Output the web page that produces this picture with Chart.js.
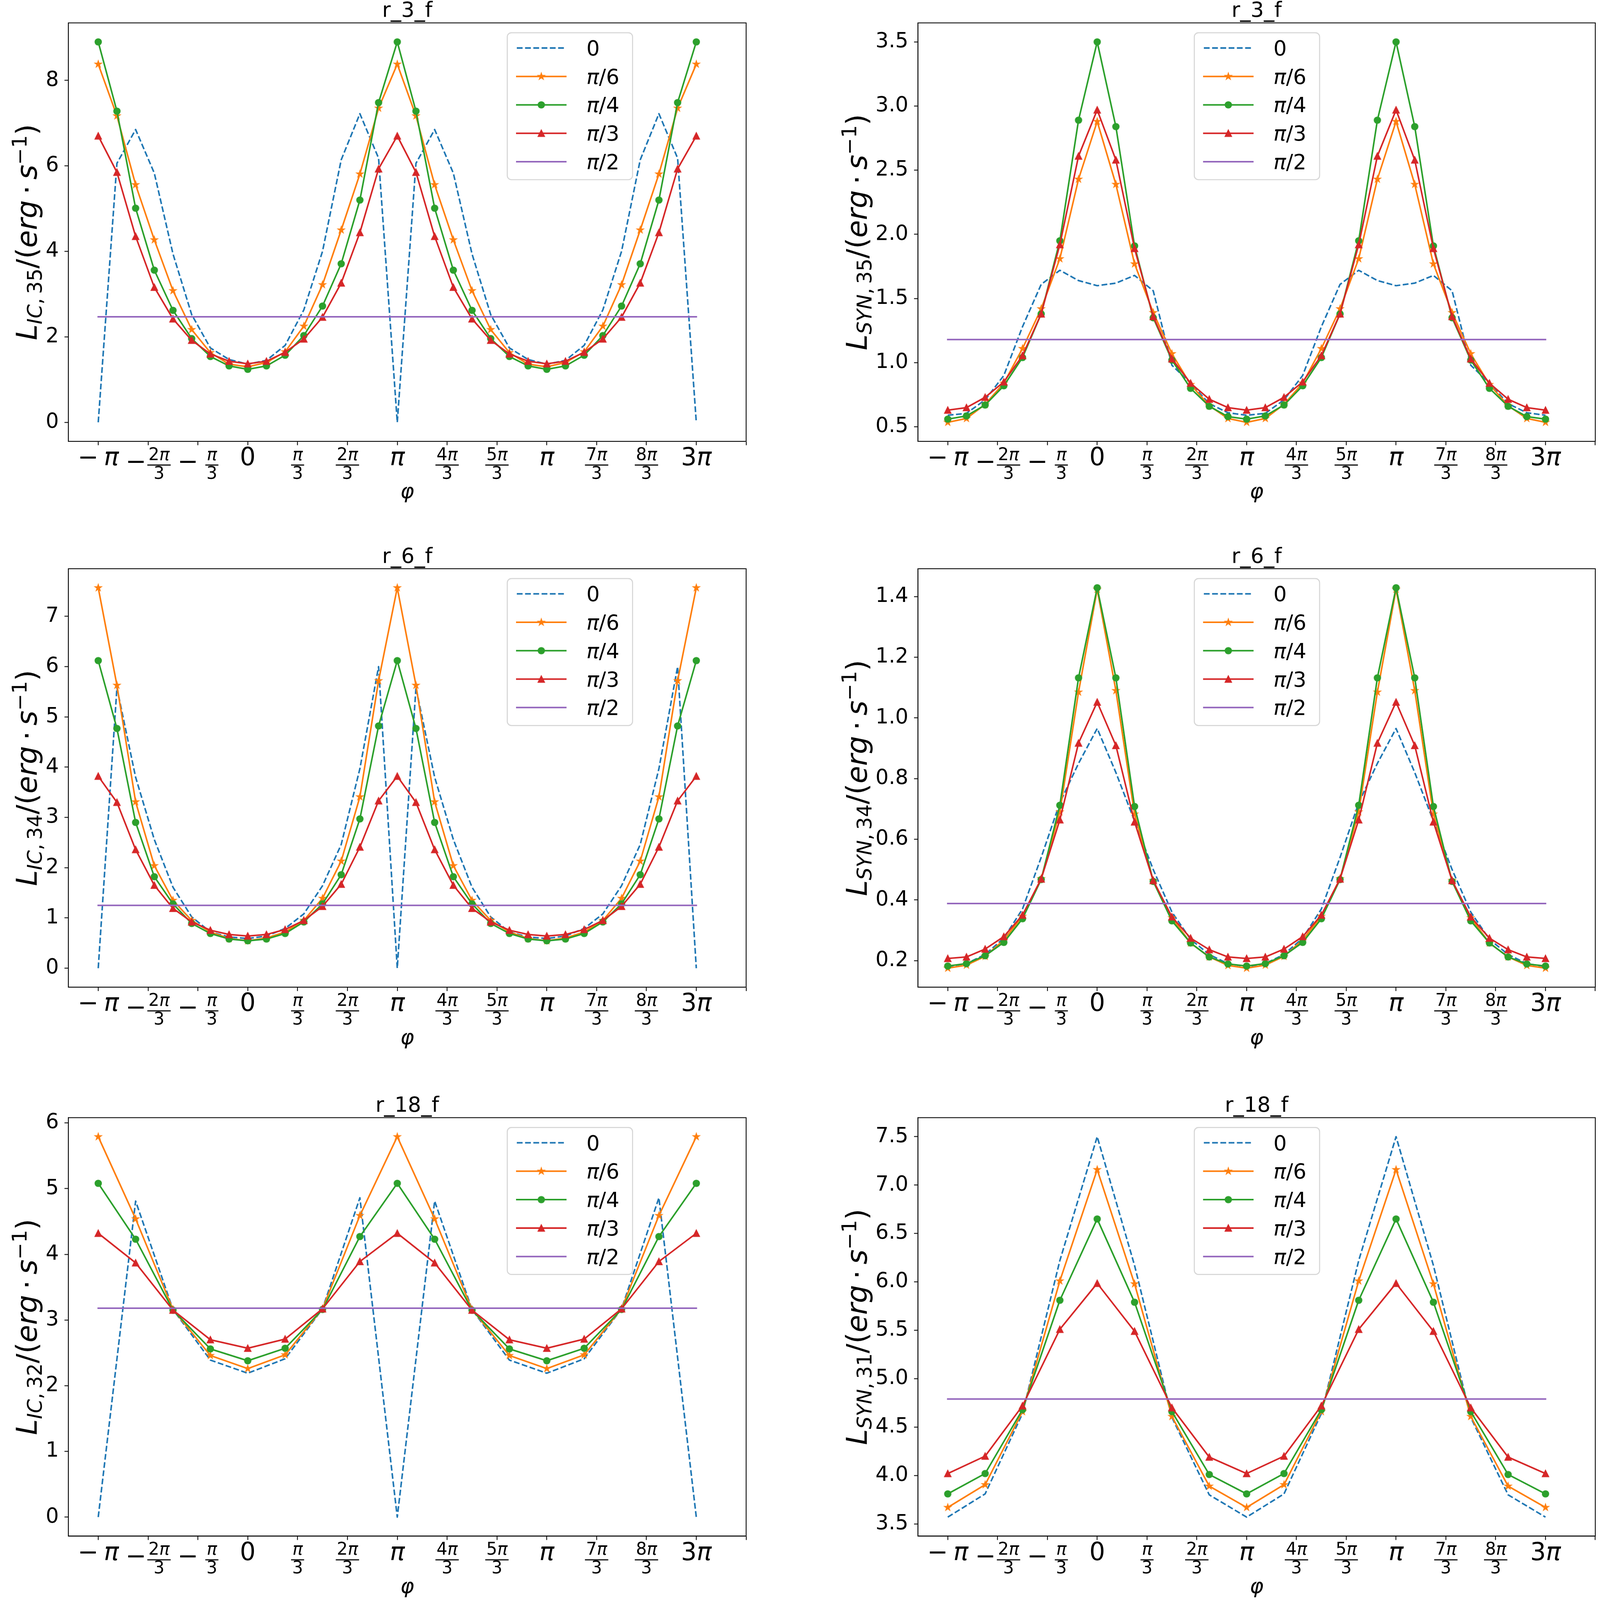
<!DOCTYPE html>
<html>
<head>
<meta charset="utf-8">
<script src="https://cdn.jsdelivr.net/npm/chart.js@4.4.1/dist/chart.umd.min.js"></script>
<style>
  html, body { margin: 0; padding: 0; background: #fff; overflow: hidden; }
  #page { position: relative; background: #fff; }
  #page canvas { position: absolute; }
</style>
</head>
<body>
<div id="page"></div>
<script>
const PI = Math.PI;

// phi positions, in units of pi
const phiFine = [-1, -0.875, -0.75, -0.625, -0.5, -0.375, -0.25, -0.125,
  0, 0.125, 0.25, 0.375, 0.5, 0.625, 0.75, 0.875,
  1, 1.125, 1.25, 1.375, 1.5, 1.625, 1.75, 1.875,
  2, 2.125, 2.25, 2.375, 2.5, 2.625, 2.75, 2.875, 3];
const phiCoarse = [-1, -0.75, -0.5, -0.25, 0, 0.25, 0.5, 0.75,
  1, 1.25, 1.5, 1.75, 2, 2.25, 2.5, 2.75, 3];

const phiTicks = [-1, -2/3, -1/3, 0, 1/3, 2/3, 1, 4/3, 5/3, 2, 7/3, 8/3, 3, 10/3];
const phiTickLabels = ['-π', '-2π/3', '-π/3', '0', 'π/3', '2π/3', 'π', '4π/3', '5π/3', 'π', '7π/3', '8π/3', '3π', ''];

const seriesNames = ['0', 'π/6', 'π/4', 'π/3', 'π/2'];
const seriesColors = ['#1f77b4', '#ff7f0e', '#2ca02c', '#d62728', '#9467bd'];
const seriesMarkers = [null, 'star', 'circle', 'triangle', null];

// r_3_f, L_IC,35
const ic35Phi0 = [0, 6.06, 6.85, 5.83, 3.94, 2.52, 1.74, 1.47, 1.36, 1.45, 1.80, 2.63, 4.00, 6.14, 7.22, 6.18,
  0, 6.06, 6.85, 5.83, 3.94, 2.52, 1.74, 1.47, 1.36, 1.45, 1.80, 2.63, 4.00, 6.14, 7.22, 6.18, 0];
const ic35Phi6 = [8.38, 7.17, 5.56, 4.27, 3.08, 2.17, 1.63, 1.36, 1.30, 1.40, 1.65, 2.25, 3.22, 4.50, 5.81, 7.35,
  8.38, 7.17, 5.56, 4.27, 3.08, 2.17, 1.63, 1.36, 1.30, 1.40, 1.65, 2.25, 3.22, 4.50, 5.81, 7.35, 8.38];
const ic35Phi4 = [8.90, 7.28, 5.01, 3.56, 2.62, 1.96, 1.54, 1.32, 1.24, 1.32, 1.57, 2.03, 2.72, 3.71, 5.20, 7.48,
  8.90, 7.28, 5.01, 3.56, 2.62, 1.96, 1.54, 1.32, 1.24, 1.32, 1.57, 2.03, 2.72, 3.71, 5.20, 7.48, 8.90];
const ic35Phi3 = [6.70, 5.85, 4.35, 3.16, 2.42, 1.92, 1.60, 1.43, 1.37, 1.43, 1.64, 1.95, 2.46, 3.26, 4.44, 5.93,
  6.70, 5.85, 4.35, 3.16, 2.42, 1.92, 1.60, 1.43, 1.37, 1.43, 1.64, 1.95, 2.46, 3.26, 4.44, 5.93, 6.70];
const ic35Phi2 = [2.47, 2.47, 2.47, 2.47, 2.47, 2.47, 2.47, 2.47, 2.47, 2.47, 2.47, 2.47, 2.47, 2.47, 2.47, 2.47,
  2.47, 2.47, 2.47, 2.47, 2.47, 2.47, 2.47, 2.47, 2.47, 2.47, 2.47, 2.47, 2.47, 2.47, 2.47, 2.47, 2.47];
const ic35Ticks = [0, 2, 4, 6, 8];
const ic35TickLabels = ['0', '2', '4', '6', '8'];

// r_3_f, L_SYN,35
const syn35Phi0 = [0.59, 0.605, 0.71, 0.90, 1.28, 1.61, 1.72, 1.64, 1.60, 1.62, 1.68, 1.56, 0.98, 0.84, 0.68, 0.61,
  0.59, 0.605, 0.71, 0.90, 1.28, 1.61, 1.72, 1.64, 1.60, 1.62, 1.68, 1.56, 0.98, 0.84, 0.68, 0.61, 0.59];
const syn35Phi6 = [0.535, 0.565, 0.675, 0.84, 1.11, 1.42, 1.81, 2.43, 2.88, 2.39, 1.77, 1.39, 1.07, 0.83, 0.665, 0.565,
  0.535, 0.565, 0.675, 0.84, 1.11, 1.42, 1.81, 2.43, 2.88, 2.39, 1.77, 1.39, 1.07, 0.83, 0.665, 0.565, 0.535];
const syn35Phi4 = [0.56, 0.585, 0.67, 0.82, 1.04, 1.38, 1.95, 2.89, 3.50, 2.84, 1.91, 1.35, 1.02, 0.80, 0.66, 0.58,
  0.56, 0.585, 0.67, 0.82, 1.04, 1.38, 1.95, 2.89, 3.50, 2.84, 1.91, 1.35, 1.02, 0.80, 0.66, 0.58, 0.56];
const syn35Phi3 = [0.63, 0.65, 0.73, 0.85, 1.055, 1.38, 1.92, 2.61, 2.97, 2.58, 1.89, 1.36, 1.03, 0.84, 0.715, 0.65,
  0.63, 0.65, 0.73, 0.85, 1.055, 1.38, 1.92, 2.61, 2.97, 2.58, 1.89, 1.36, 1.03, 0.84, 0.715, 0.65, 0.63];
const syn35Phi2 = [1.18, 1.18, 1.18, 1.18, 1.18, 1.18, 1.18, 1.18, 1.18, 1.18, 1.18, 1.18, 1.18, 1.18, 1.18, 1.18,
  1.18, 1.18, 1.18, 1.18, 1.18, 1.18, 1.18, 1.18, 1.18, 1.18, 1.18, 1.18, 1.18, 1.18, 1.18, 1.18, 1.18];
const syn35Ticks = [0.5, 1.0, 1.5, 2.0, 2.5, 3.0, 3.5];
const syn35TickLabels = ['0.5', '1.0', '1.5', '2.0', '2.5', '3.0', '3.5'];

// r_6_f, L_IC,34
const ic34Phi0 = [0, 5.58, 3.80, 2.56, 1.61, 1.02, 0.72, 0.62, 0.59, 0.64, 0.79, 1.08, 1.64, 2.46, 3.97, 6.00,
  0, 5.58, 3.80, 2.56, 1.61, 1.02, 0.72, 0.62, 0.59, 0.64, 0.79, 1.08, 1.64, 2.46, 3.97, 6.00, 0];
const ic34Phi6 = [7.57, 5.63, 3.31, 2.04, 1.35, 0.95, 0.72, 0.59, 0.545, 0.60, 0.72, 0.95, 1.39, 2.13, 3.41, 5.72,
  7.57, 5.63, 3.31, 2.04, 1.35, 0.95, 0.72, 0.59, 0.545, 0.60, 0.72, 0.95, 1.39, 2.13, 3.41, 5.72, 7.57];
const ic34Phi4 = [6.12, 4.77, 2.90, 1.82, 1.28, 0.89, 0.69, 0.58, 0.545, 0.58, 0.69, 0.92, 1.28, 1.86, 2.97, 4.82,
  6.12, 4.77, 2.90, 1.82, 1.28, 0.89, 0.69, 0.58, 0.545, 0.58, 0.69, 0.92, 1.28, 1.86, 2.97, 4.82, 6.12];
const ic34Phi3 = [3.82, 3.30, 2.36, 1.65, 1.19, 0.92, 0.755, 0.67, 0.64, 0.67, 0.77, 0.95, 1.23, 1.67, 2.41, 3.33,
  3.82, 3.30, 2.36, 1.65, 1.19, 0.92, 0.755, 0.67, 0.64, 0.67, 0.77, 0.95, 1.23, 1.67, 2.41, 3.33, 3.82];
const ic34Phi2 = [1.25, 1.25, 1.25, 1.25, 1.25, 1.25, 1.25, 1.25, 1.25, 1.25, 1.25, 1.25, 1.25, 1.25, 1.25, 1.25,
  1.25, 1.25, 1.25, 1.25, 1.25, 1.25, 1.25, 1.25, 1.25, 1.25, 1.25, 1.25, 1.25, 1.25, 1.25, 1.25, 1.25];
const ic34Ticks = [0, 1, 2, 3, 4, 5, 6, 7];
const ic34TickLabels = ['0', '1', '2', '3', '4', '5', '6', '7'];

// r_6_f, L_SYN,34
const syn34Phi0 = [0.18, 0.19, 0.22, 0.274, 0.37, 0.54, 0.72, 0.85, 0.965, 0.82, 0.66, 0.50, 0.36, 0.27, 0.22, 0.19,
  0.18, 0.19, 0.22, 0.274, 0.37, 0.54, 0.72, 0.85, 0.965, 0.82, 0.66, 0.50, 0.36, 0.27, 0.22, 0.19, 0.18];
const syn34Phi6 = [0.175, 0.185, 0.214, 0.268, 0.346, 0.47, 0.69, 1.085, 1.424, 1.09, 0.683, 0.464, 0.341, 0.258, 0.212, 0.184,
  0.175, 0.185, 0.214, 0.268, 0.346, 0.47, 0.69, 1.085, 1.424, 1.09, 0.683, 0.464, 0.341, 0.258, 0.212, 0.184, 0.175];
const syn34Phi4 = [0.182, 0.19, 0.216, 0.26, 0.338, 0.467, 0.712, 1.132, 1.429, 1.132, 0.708, 0.461, 0.331, 0.258, 0.212, 0.189,
  0.182, 0.19, 0.216, 0.26, 0.338, 0.467, 0.712, 1.132, 1.429, 1.132, 0.708, 0.461, 0.331, 0.258, 0.212, 0.189, 0.182];
const syn34Phi3 = [0.207, 0.212, 0.238, 0.279, 0.35, 0.469, 0.664, 0.917, 1.052, 0.909, 0.657, 0.464, 0.344, 0.274, 0.236, 0.212,
  0.207, 0.212, 0.238, 0.279, 0.35, 0.469, 0.664, 0.917, 1.052, 0.909, 0.657, 0.464, 0.344, 0.274, 0.236, 0.212, 0.207];
const syn34Phi2 = [0.388, 0.388, 0.388, 0.388, 0.388, 0.388, 0.388, 0.388, 0.388, 0.388, 0.388, 0.388, 0.388, 0.388, 0.388, 0.388,
  0.388, 0.388, 0.388, 0.388, 0.388, 0.388, 0.388, 0.388, 0.388, 0.388, 0.388, 0.388, 0.388, 0.388, 0.388, 0.388, 0.388];
const syn34Ticks = [0.2, 0.4, 0.6, 0.8, 1.0, 1.2, 1.4];
const syn34TickLabels = ['0.2', '0.4', '0.6', '0.8', '1.0', '1.2', '1.4'];

// r_18_f, L_IC,32 (coarser phi grid)
const ic32Phi0 = [0, 4.81, 3.16, 2.39, 2.19, 2.41, 3.17, 4.86, 0, 4.81, 3.16, 2.39, 2.19, 2.41, 3.17, 4.86, 0];
const ic32Phi6 = [5.79, 4.54, 3.16, 2.46, 2.26, 2.47, 3.17, 4.59, 5.79, 4.54, 3.16, 2.46, 2.26, 2.47, 3.17, 4.59, 5.79];
const ic32Phi4 = [5.08, 4.23, 3.15, 2.56, 2.38, 2.57, 3.16, 4.27, 5.08, 4.23, 3.15, 2.56, 2.38, 2.57, 3.16, 4.27, 5.08];
const ic32Phi3 = [4.32, 3.87, 3.15, 2.70, 2.57, 2.71, 3.17, 3.89, 4.32, 3.87, 3.15, 2.70, 2.57, 2.71, 3.17, 3.89, 4.32];
const ic32Phi2 = [3.18, 3.18, 3.18, 3.18, 3.18, 3.18, 3.18, 3.18, 3.18, 3.18, 3.18, 3.18, 3.18, 3.18, 3.18, 3.18, 3.18];
const ic32Ticks = [0, 1, 2, 3, 4, 5, 6];
const ic32TickLabels = ['0', '1', '2', '3', '4', '5', '6'];

// r_18_f, L_SYN,31
const syn31Phi0 = [3.57, 3.81, 4.64, 6.22, 7.50, 6.17, 4.60, 3.80, 3.57, 3.81, 4.64, 6.22, 7.50, 6.17, 4.60, 3.80, 3.57];
const syn31Phi6 = [3.67, 3.905, 4.66, 6.01, 7.16, 5.98, 4.61, 3.89, 3.67, 3.905, 4.66, 6.01, 7.16, 5.98, 4.61, 3.89, 3.67];
const syn31Phi4 = [3.81, 4.02, 4.68, 5.81, 6.65, 5.79, 4.66, 4.01, 3.81, 4.02, 4.68, 5.81, 6.65, 5.79, 4.66, 4.01, 3.81];
const syn31Phi3 = [4.02, 4.20, 4.72, 5.51, 5.985, 5.49, 4.70, 4.19, 4.02, 4.20, 4.72, 5.51, 5.985, 5.49, 4.70, 4.19, 4.02];
const syn31Phi2 = [4.79, 4.79, 4.79, 4.79, 4.79, 4.79, 4.79, 4.79, 4.79, 4.79, 4.79, 4.79, 4.79, 4.79, 4.79, 4.79, 4.79];
const syn31Ticks = [3.5, 4.0, 4.5, 5.0, 5.5, 6.0, 6.5, 7.0, 7.5];
const syn31TickLabels = ['3.5', '4.0', '4.5', '5.0', '5.5', '6.0', '6.5', '7.0', '7.5'];

const panels = [
  { title: 'r_3_f', sub: ['IC', '35'], phi: phiFine, series: [ic35Phi0, ic35Phi6, ic35Phi4, ic35Phi3, ic35Phi2], ticks: ic35Ticks, tickLabels: ic35TickLabels, row: 0, col: 0 },
  { title: 'r_3_f', sub: ['SYN', '35'], phi: phiFine, series: [syn35Phi0, syn35Phi6, syn35Phi4, syn35Phi3, syn35Phi2], ticks: syn35Ticks, tickLabels: syn35TickLabels, row: 0, col: 1 },
  { title: 'r_6_f', sub: ['IC', '34'], phi: phiFine, series: [ic34Phi0, ic34Phi6, ic34Phi4, ic34Phi3, ic34Phi2], ticks: ic34Ticks, tickLabels: ic34TickLabels, row: 1, col: 0 },
  { title: 'r_6_f', sub: ['SYN', '34'], phi: phiFine, series: [syn34Phi0, syn34Phi6, syn34Phi4, syn34Phi3, syn34Phi2], ticks: syn34Ticks, tickLabels: syn34TickLabels, row: 1, col: 1 },
  { title: 'r_18_f', sub: ['IC', '32'], phi: phiCoarse, series: [ic32Phi0, ic32Phi6, ic32Phi4, ic32Phi3, ic32Phi2], ticks: ic32Ticks, tickLabels: ic32TickLabels, row: 2, col: 0 },
  { title: 'r_18_f', sub: ['SYN', '31'], phi: phiCoarse, series: [syn31Phi0, syn31Phi6, syn31Phi4, syn31Phi3, syn31Phi2], ticks: syn31Ticks, tickLabels: syn31TickLabels, row: 2, col: 1 }
];

// layout in reference pixels (5198 x 6500), mapped onto the real window
const FIG_W = 5198, FIG_H = 6500;
const SX = (window.innerWidth || FIG_W) / FIG_W;
const SY = (window.innerHeight || FIG_H) / FIG_H;
const K = Math.sqrt(SX * SY);

const cellLeft = [0, 2599];
const cellWidth = 2599;
const cellTop = [0, 2200, 4420];
const cellHeight = [2200, 2220, 2080];
const axisLeft = [222, 2982];
const axisTop = [93, 2311, 4541];
const axisW = 2202;
const axisH = 1700;
const yScaleW = 200 * SX;
const xScaleH = 200 * SY;
const legendDx = [1426, 898];

const FAMILY = '"DejaVu Sans"';
const LW = 5.7 * K;
const MS = 22.8 * K;
const DASH = [21 * K, 9 * K];

Chart.defaults.font.family = 'DejaVu Sans';

function font(size, italic) {
  return (italic ? 'italic ' : '') + size.toFixed(2) + 'px ' + FAMILY;
}

function makeMarker(shape, color) {
  const c = document.createElement('canvas');
  const n = Math.ceil(MS + 10);
  c.width = n; c.height = n;
  const g = c.getContext('2d');
  const r = MS / 2;
  g.translate(n / 2, n / 2);
  g.beginPath();
  if (shape === 'circle') {
    g.arc(0, 0, r, 0, 2 * PI);
  } else if (shape === 'triangle') {
    g.moveTo(0, -r); g.lineTo(-r, r); g.lineTo(r, r); g.closePath();
  } else if (shape === 'star') {
    const inner = r * 0.381966;
    for (let i = 0; i < 10; i++) {
      const rr = i % 2 === 0 ? r : inner;
      const a = -PI / 2 + i * PI / 5;
      if (i === 0) g.moveTo(rr * Math.cos(a), rr * Math.sin(a));
      else g.lineTo(rr * Math.cos(a), rr * Math.sin(a));
    }
    g.closePath();
  }
  g.fillStyle = color; g.fill();
  g.strokeStyle = color; g.lineWidth = 3.8 * K; g.stroke();
  return c;
}

const markerImages = seriesMarkers.map((m, i) => m ? makeMarker(m, seriesColors[i]) : null);

function mathRuns(s, size) {
  return Array.from(s).map(ch => ({ t: ch, italic: ch === 'π', size: size, dy: 0 }));
}

function runsWidth(ctx, runs) {
  let w = 0;
  runs.forEach(r => { ctx.font = font(r.size, r.italic); w += ctx.measureText(r.t).width; });
  return w;
}

function drawRuns(ctx, runs, x, y) {
  runs.forEach(r => {
    ctx.font = font(r.size, r.italic);
    ctx.fillText(r.t, x, y + (r.dy || 0));
    x += ctx.measureText(r.t).width;
  });
  return x;
}

const BIG = 90 * K, FRAC = 62 * K;

function drawPhiTick(ctx, label, cx, axisY) {
  const neg = label.startsWith('-');
  const body = neg ? label.slice(1) : label;
  if (!body) return;
  ctx.fillStyle = '#000';
  ctx.textAlign = 'left';
  ctx.textBaseline = 'alphabetic';
  ctx.font = font(BIG, false);
  const minusW = neg ? ctx.measureText('\u2212').width : 0;
  if (body.includes('/')) {
    const parts = body.split('/');
    const num = mathRuns(parts[0], FRAC);
    const den = mathRuns(parts[1], FRAC);
    const nw = runsWidth(ctx, num);
    const dw = runsWidth(ctx, den);
    const barW = Math.max(nw, dw) + 8 * K;
    const gap = neg ? (parts[0].length === 1 ? 26 * K : 4 * K) : 0;
    let x0 = cx - (minusW + gap + barW) / 2;
    if (neg) {
      ctx.font = font(BIG, false);
      ctx.fillText('\u2212', x0, axisY + 114 * SY);
      x0 += minusW + gap;
    }
    drawRuns(ctx, num, x0 + (barW - nw) / 2, axisY + 76 * SY);
    ctx.fillRect(x0, axisY + 94 * SY, barW, 4 * K);
    drawRuns(ctx, den, x0 + (barW - dw) / 2, axisY + 152 * SY);
  } else {
    const runs = mathRuns(body, BIG);
    const bw = runsWidth(ctx, runs);
    const gap = neg ? 20 * K : 0;
    let x0 = cx - (minusW + gap + bw) / 2;
    if (neg) {
      ctx.font = font(BIG, false);
      ctx.fillText('\u2212', x0, axisY + 97 * SY);
      x0 += minusW + gap;
    }
    drawRuns(ctx, runs, x0, axisY + 97 * SY);
  }
}

function drawYLabel(ctx, sub, bx, cy) {
  const F = 104 * K;
  const runs = [
    { t: 'L', italic: true, size: F, dy: 0 },
    { t: sub[0], italic: true, size: F * 0.7, dy: 0.17 * F },
    { t: ',\u2009', italic: false, size: F * 0.7, dy: 0.17 * F },
    { t: sub[1], italic: false, size: F * 0.7, dy: 0.17 * F },
    { t: '/(', italic: false, size: F, dy: 0 },
    { t: 'erg', italic: true, size: F, dy: 0 },
    { t: '\u2009\u00b7\u2009', italic: false, size: F, dy: 0 },
    { t: 's', italic: true, size: F, dy: 0 },
    { t: '\u22121', italic: false, size: F * 0.7, dy: -0.36 * F },
    { t: ')', italic: false, size: F, dy: 0 }
  ];
  ctx.save();
  ctx.translate(bx, cy);
  ctx.rotate(-PI / 2);
  ctx.fillStyle = '#000';
  ctx.textAlign = 'left';
  ctx.textBaseline = 'alphabetic';
  const w = runsWidth(ctx, runs);
  drawRuns(ctx, runs, -w / 2, 0);
  ctx.restore();
}

function drawLegend(ctx, x, y) {
  const W = 407 * SX, H = 597 * SY, R = 15 * K;
  ctx.save();
  ctx.beginPath();
  ctx.roundRect(x, y, W, H, R);
  ctx.fillStyle = 'rgba(255,255,255,0.8)';
  ctx.fill();
  ctx.strokeStyle = 'rgba(204,204,204,0.8)';
  ctx.lineWidth = 3.8 * K;
  ctx.stroke();
  seriesNames.forEach((name, i) => {
    const cy = y + (62 + i * 115.5) * SY;
    ctx.beginPath();
    ctx.setLineDash(i === 0 ? DASH : []);
    ctx.lineCap = i === 0 ? 'butt' : 'square';
    ctx.strokeStyle = seriesColors[i];
    ctx.lineWidth = LW;
    ctx.moveTo(x + 31 * SX, cy);
    ctx.lineTo(x + 190 * SX, cy);
    ctx.stroke();
    ctx.setLineDash([]);
    const img = markerImages[i];
    if (img) ctx.drawImage(img, x + 110.5 * SX - img.width / 2, cy - img.height / 2);
    ctx.fillStyle = '#000';
    ctx.textAlign = 'left';
    ctx.textBaseline = 'alphabetic';
    drawRuns(ctx, mathRuns(name, 76 * K), x + 257 * SX, cy + 27 * K);
  });
  ctx.restore();
}

const page = document.getElementById('page');
page.style.width = (FIG_W * SX) + 'px';
page.style.height = (FIG_H * SY) + 'px';

panels.forEach(p => {
  const canvas = document.createElement('canvas');
  const w = Math.round(cellWidth * SX);
  const h = Math.round(cellHeight[p.row] * SY);
  canvas.width = w;
  canvas.height = h;
  canvas.style.left = Math.round(cellLeft[p.col] * SX) + 'px';
  canvas.style.top = Math.round(cellTop[p.row] * SY) + 'px';
  canvas.style.width = w + 'px';
  canvas.style.height = h + 'px';
  page.appendChild(canvas);

  const all = [].concat(...p.series);
  const lo = Math.min(...all), hi = Math.max(...all);
  const yPad = 0.05 * (hi - lo);
  const xLo = p.phi[0] * PI, xHi = p.phi[p.phi.length - 1] * PI;
  const xMin = xLo - 0.05 * (xHi - xLo);
  const xMax = Math.max(xHi + 0.05 * (xHi - xLo), phiTicks[phiTicks.length - 1] * PI);

  const datasets = p.series.map((ys, i) => ({
    label: seriesNames[i],
    data: p.phi.map((f, k) => ({ x: f * PI, y: ys[k] })),
    borderColor: seriesColors[i],
    backgroundColor: seriesColors[i],
    borderWidth: LW,
    borderDash: i === 0 ? DASH : [],
    borderCapStyle: i === 0 ? 'butt' : 'square',
    borderJoinStyle: 'round',
    pointStyle: markerImages[i] || 'circle',
    pointRadius: markerImages[i] ? MS / 2 : 0,
    pointHoverRadius: 0,
    tension: 0,
    fill: false,
    order: 4 - i
  }));

  const padTop = (axisTop[p.row] - cellTop[p.row]) * SY;
  const padLeft = (axisLeft[p.col] - cellLeft[p.col]) * SX - yScaleW;
  const padRight = w - (axisLeft[p.col] + axisW - cellLeft[p.col]) * SX;
  const padBottom = h - (axisTop[p.row] + axisH - cellTop[p.row]) * SY - xScaleH;

  const decor = {
    id: 'decor',
    afterDraw(chart) {
      const ctx = chart.ctx;
      const a = chart.chartArea;
      const xs = chart.scales.x;
      ctx.save();
      // axes frame
      ctx.strokeStyle = '#000';
      ctx.lineWidth = 3 * K;
      ctx.strokeRect(a.left, a.top, a.right - a.left, a.bottom - a.top);
      // title
      ctx.fillStyle = '#000';
      ctx.font = font(76 * K, false);
      ctx.textAlign = 'center';
      ctx.textBaseline = 'alphabetic';
      ctx.fillText(p.title, (a.left + a.right) / 2, a.top - 24 * SY);
      // phi tick labels
      phiTicks.forEach((t, i) => drawPhiTick(ctx, phiTickLabels[i], xs.getPixelForValue(t * PI), a.bottom));
      // x label
      ctx.font = font(76 * K, true);
      ctx.textAlign = 'center';
      ctx.fillText('φ', (a.left + a.right) / 2, a.bottom + 231 * SY);
      // y label
      ctx.font = font(75 * K, false);
      const tw = Math.max(...p.tickLabels.map(s => ctx.measureText(s).width));
      drawYLabel(ctx, p.sub, a.left - 31 * SX - tw - 32 * K, (a.top + a.bottom) / 2);
      // legend
      drawLegend(ctx, a.left + legendDx[p.col] * SX, a.top + 40 * SY);
      ctx.restore();
    }
  };

  const tickLen = 14 * K;
  new Chart(canvas, {
    type: 'line',
    data: { datasets },
    options: {
      responsive: false,
      animation: false,
      devicePixelRatio: 1,
      events: [],
      layout: { padding: { top: padTop, left: padLeft, right: padRight, bottom: padBottom } },
      plugins: { legend: { display: false }, tooltip: { enabled: false }, title: { display: false } },
      scales: {
        x: {
          type: 'linear',
          min: xMin,
          max: xMax,
          bounds: 'data',
          afterBuildTicks: axis => { axis.ticks = phiTicks.map(t => ({ value: t * PI })); },
          afterFit: scale => { scale.height = xScaleH; },
          ticks: { callback: () => '', autoSkip: false, maxRotation: 0, minRotation: 0, padding: 0 },
          grid: { display: true, drawOnChartArea: false, drawTicks: true, tickLength: tickLen, tickWidth: 3 * K, tickColor: '#000' },
          border: { display: true, color: '#000', width: 3 * K }
        },
        y: {
          type: 'linear',
          min: lo - yPad,
          max: hi + yPad,
          bounds: 'data',
          afterBuildTicks: axis => { axis.ticks = p.ticks.map(v => ({ value: v })); },
          afterFit: scale => { scale.width = yScaleW; },
          ticks: {
            callback: (v, i) => p.tickLabels[i],
            autoSkip: false,
            color: '#000',
            font: { family: 'DejaVu Sans', size: 75 * K },
            padding: 31 * SX - tickLen
          },
          grid: { display: true, drawOnChartArea: false, drawTicks: true, tickLength: tickLen, tickWidth: 3 * K, tickColor: '#000' },
          border: { display: true, color: '#000', width: 3 * K }
        }
      }
    },
    plugins: [decor]
  });
});
</script>
</body>
</html>
